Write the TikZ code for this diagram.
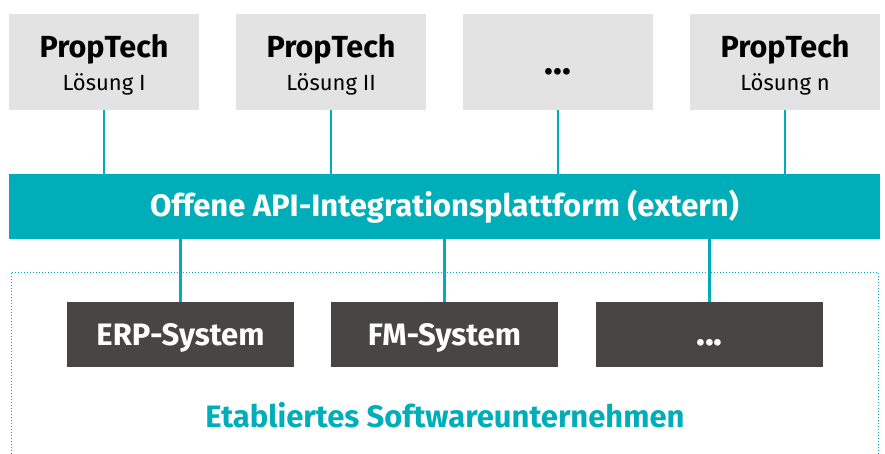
\documentclass[tikz,border=0pt]{standalone}
\usepackage{fontspec}
\setmainfont{Fira Sans}
\definecolor{teal}{HTML}{00AEBA}
\definecolor{lightbox}{HTML}{E3E3E3}
\definecolor{darkbox}{HTML}{474645}
\newcommand{\bigbold}{\bfseries\fontsize{31}{36}\selectfont}
\newcommand{\dotsfont}{\bfseries\fontsize{37}{40}\selectfont}
\tikzset{
  topbox/.style={fill=lightbox, minimum width=190pt, minimum height=96pt, inner sep=0pt, text height=22pt, text depth=30pt},
  sysbox/.style={fill=darkbox, minimum width=227pt, minimum height=65pt, inner sep=0pt, text=white, font=\bigbold, text height=21pt, text depth=0pt},
  barbox/.style={fill=teal, minimum width=871pt, minimum height=65pt, inner sep=0pt, text=white, font=\bigbold, text height=21pt, text depth=0pt},
  link/.style={draw=teal, line width=2.7pt},
  frame/.style={draw=teal, dotted, line width=1pt},
}
\newcommand{\ptitle}[1]{\vtop{\baselineskip=33pt\lineskiplimit=-100pt\lineskip=0pt
  \hbox to 0pt{\hss\bfseries\fontsize{30.5}{33}\selectfont PropTech\hss}
  \hbox to 0pt{\hss\fontsize{22}{33}\selectfont #1\hss}}}
\begin{document}
\begin{tikzpicture}[x=1pt,y=-1pt]
\useasboundingbox (0,0) rectangle (885,454);
% frame
\coordinate (f1) at (11,454);
\coordinate (f2) at (11,272);
\coordinate (f3) at (878,272);
\coordinate (f4) at (878,454);
\draw[frame] (f1) -- (f2) -- (f3) -- (f4);
% top boxes
\node[topbox] (t1) at (104,62) {\ptitle{Lösung I}};
\node[topbox] (t2) at (331,62) {\ptitle{Lösung II}};
\node[topbox, font=\dotsfont, text height=26pt, text depth=0pt] (t3) at (558,62) {...};
\node[topbox] (t4) at (785,62) {\ptitle{Lösung n}};
% bar
\node[barbox] (bar) at (444.5,206.5) {Offene API-Integrationsplattform (extern)};
% system boxes
\node[sysbox] (s1) at (180.5,334.5) {ERP-System};
\node[sysbox] (s2) at (444.5,334.5) {FM-System};
\node[sysbox, font=\dotsfont, text height=22pt] (s3) at (709.5,334.5) {...};
% links
\foreach \t in {t1,t2,t3,t4} \draw[link] (\t.south) -- (\t.south |- bar.north);
\foreach \s in {s1,s2,s3} \draw[link] (bar.south -| \s.north) -- (\s.north);
% title
\node[text=teal, font=\bigbold, anchor=base, inner sep=0pt] (title) at (445,427) {Etabliertes Softwareunternehmen};
\end{tikzpicture}
\end{document}
